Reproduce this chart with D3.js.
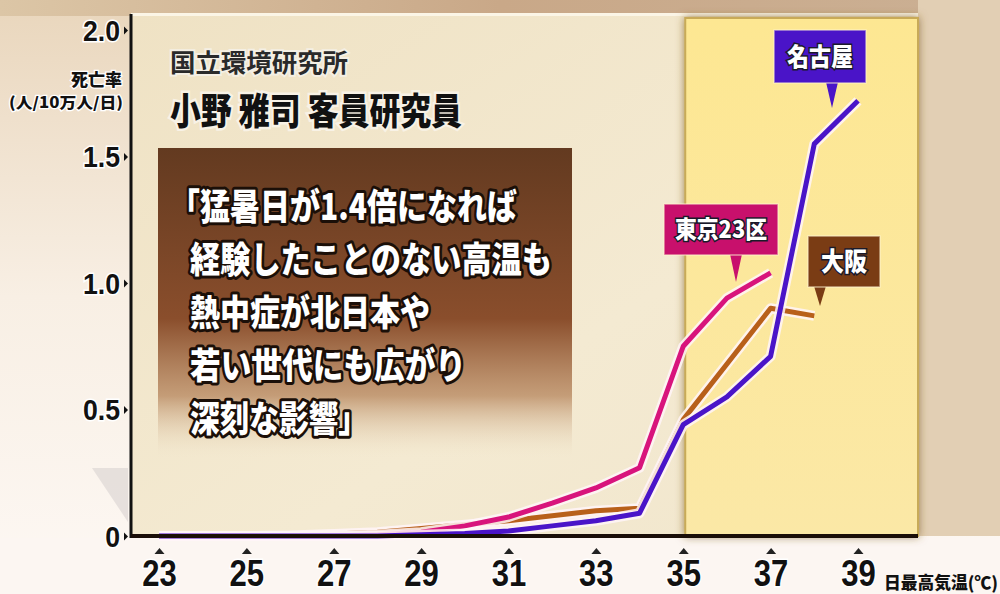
<!DOCTYPE html>
<html><head><meta charset="utf-8">
<script src="https://cdn.jsdelivr.net/npm/d3@7"></script>
<style>
html,body{margin:0;padding:0;background:#fbf3ea;}
svg{display:block;}
</style></head>
<body>
<svg id="chart" width="1000" height="594"></svg>
<script>
// ---- data ----
const temps = [23,24,25,26,27,28,29,30,31,32,33,34,35,36,37,38,39];
const tokyo  = [0,0,0,0,0,0.005,0.015,0.04,0.075,0.13,0.19,0.27,0.75,0.94,1.04];
const osaka  = [0,0,0,0.002,0.008,0.015,0.03,0.045,0.06,0.08,0.10,0.11,0.46,0.68,0.90,0.87];
const nagoya = [0,0,0,0,0,0,0.005,0.01,0.02,0.04,0.06,0.09,0.44,0.55,0.71,1.55,1.72];
const xTicks = [23,25,27,29,31,33,35,37,39];
const yTicks = [0,0.5,1.0,1.5,2.0];
const yTickLabels = ["0","0.5","1.0","1.5","2.0"];
const seriesNames = ["東京23区","大阪","名古屋"];
const quoteLines = ["「猛暑日が1.4倍になれば","経験したことのない高温も","熱中症が北日本や","若い世代にも広がり","深刻な影響」"];

const svg = d3.select("#chart");
const W = 1000, H = 594;
const x = d3.scaleLinear().domain([23,39]).range([159,858]);
const y = d3.scaleLinear().domain([0,2]).range([536,30]);
const axisX = 131, axisY = y(0);

const defs = svg.append("defs");
const g1 = defs.append("linearGradient").attr("id","bgLeft").attr("x1",0).attr("y1",0).attr("x2",0).attr("y2",1);
g1.append("stop").attr("offset","0").attr("stop-color","#e9d6bc");
g1.append("stop").attr("offset","0.5").attr("stop-color","#f8efe4");
g1.append("stop").attr("offset","1").attr("stop-color","#fdf8f4");
const g2 = defs.append("linearGradient").attr("id","panel").attr("x1",0).attr("y1",0).attr("x2",1).attr("y2",1);
g2.append("stop").attr("offset","0").attr("stop-color","#efe2c4");
g2.append("stop").attr("offset","0.6").attr("stop-color","#f4ead2");
g2.append("stop").attr("offset","1").attr("stop-color","#f1e6cc");
const g3 = defs.append("linearGradient").attr("id","quoteBox").attr("x1",0).attr("y1",0).attr("x2",0).attr("y2",1);
g3.append("stop").attr("offset","0").attr("stop-color","#633a20");
g3.append("stop").attr("offset","0.55").attr("stop-color","#8a4e2c");
g3.append("stop").attr("offset","0.8").attr("stop-color","#b98a62").attr("stop-opacity",0.8);
g3.append("stop").attr("offset","1").attr("stop-color","#efe2c8").attr("stop-opacity",0);
const g4 = defs.append("linearGradient").attr("id","topStrip").attr("x1",0).attr("y1",0).attr("x2",1).attr("y2",0);
g4.append("stop").attr("offset","0").attr("stop-color","#dcc6a6");
g4.append("stop").attr("offset","0.5").attr("stop-color","#c9a888");
g4.append("stop").attr("offset","1").attr("stop-color","#cbb094");
const g5 = defs.append("linearGradient").attr("id","yellow").attr("x1",0).attr("y1",0).attr("x2",0).attr("y2",1);
g5.append("stop").attr("offset","0").attr("stop-color","#fde792");
g5.append("stop").attr("offset","1").attr("stop-color","#fbe8a6");
const f = defs.append("filter").attr("id","shadow").attr("x","-10%").attr("y","-10%").attr("width","120%").attr("height","120%");
f.append("feDropShadow").attr("dx",0).attr("dy",0).attr("stdDeviation",4).attr("flood-color","#7a5a20").attr("flood-opacity",0.7);

// background
svg.append("rect").attr("width",W).attr("height",H).attr("fill","url(#bgLeft)");
svg.append("rect").attr("x",0).attr("y",0).attr("width",W).attr("height",16).attr("fill","url(#topStrip)");
svg.append("rect").attr("x",918).attr("y",0).attr("width",82).attr("height",axisY).attr("fill","#e2cfb4");
svg.append("rect").attr("x",axisX).attr("y",13).attr("width",918-axisX).attr("height",axisY-13).attr("fill","url(#panel)");
svg.append("rect").attr("x",axisX).attr("y",13).attr("width",918-axisX).attr("height",3).attr("fill","#fbf5e6");
svg.append("path").attr("d","M92,468 L128,468 L128,522 Z").attr("fill","#d8d2d0").attr("opacity",0.6);
svg.append("rect").attr("x",0).attr("y",axisY+2).attr("width",W).attr("height",H-axisY).attr("fill","#fcf6f2");

// yellow highlight panel
svg.append("rect").attr("x",x(35)+2).attr("y",18).attr("width",918-x(35)-2).attr("height",axisY-18)
  .attr("fill","url(#yellow)").attr("stroke","#c8aa58").attr("stroke-width",2).attr("filter","url(#shadow)");

// quote box
svg.append("rect").attr("x",158).attr("y",148).attr("width",414).attr("height",310).attr("fill","url(#quoteBox)");

// header texts
svg.append("text").attr("x",170).attr("y",72).text("国立環境研究所")
  .attr("font-family","Noto Sans CJK JP").attr("font-weight",700).attr("font-size",25)
  .attr("fill","#2a2a2a").attr("stroke","#f4efe4").attr("stroke-width",4).attr("paint-order","stroke")
  .attr("textLength",178).attr("lengthAdjust","spacingAndGlyphs");
svg.append("text").attr("x",170).attr("y",125).text("小野 雅司 客員研究員")
  .attr("font-family","Noto Sans CJK JP").attr("font-weight",900).attr("font-size",37)
  .attr("fill","#111").attr("stroke","#f8f2e6").attr("stroke-width",5).attr("paint-order","stroke")
  .attr("textLength",292).attr("lengthAdjust","spacingAndGlyphs");

// quote
const qx = [170,190,190,190,190];
const qw = [347,362,240,276,178];
svg.append("g").selectAll("text").data(quoteLines).join("text")
  .attr("x",(d,i)=>qx[i]).attr("y",(d,i)=>220+i*53)
  .text(d=>d)
  .attr("font-family","Noto Sans CJK JP").attr("font-weight",900).attr("font-size",36)
  .attr("fill","#ffffff").attr("stroke","#1b0f08").attr("stroke-width",6).attr("paint-order","stroke")
  .attr("stroke-linejoin","round")
  .attr("textLength",(d,i)=>qw[i]).attr("lengthAdjust","spacingAndGlyphs");

// lines
const line = d3.line().x(d=>x(d[0])).y(d=>y(d[1]));
const series = [
  {name:"大阪", vals:osaka, color:"#b8601a"},
  {name:"東京23区", vals:tokyo, color:"#d8147c"},
  {name:"名古屋", vals:nagoya, color:"#4a14c8"}
];
series.forEach(s=>{
  const pts = s.vals.map((v,i)=>[temps[i],v]);
  svg.append("path").attr("d",line(pts)).attr("fill","none").attr("stroke","#fff4f8").attr("stroke-opacity",0.85)
    .attr("stroke-width",10).attr("stroke-linejoin","round");
  svg.append("path").attr("d",line(pts)).attr("fill","none").attr("stroke",s.color)
    .attr("stroke-width",5).attr("stroke-linejoin","round");
});

// callouts
function callout(text, bx, by, bw, bh, tipX, tipY, color, fs, tl){
  const g = svg.append("g");
  g.append("path").attr("d",`M${tipX-6},${by+bh-1} L${tipX+6},${by+bh-1} L${tipX},${tipY} Z`).attr("fill",color);
  g.append("rect").attr("x",bx).attr("y",by).attr("width",bw).attr("height",bh).attr("fill",color)
    .attr("stroke","#fff3d0").attr("stroke-opacity",0.6).attr("stroke-width",1.5);
  g.append("text").attr("x",bx+bw/2).attr("y",by+bh/2+fs*0.36).attr("text-anchor","middle").text(text)
    .attr("font-family","Noto Sans CJK JP").attr("font-weight",900).attr("font-size",fs)
    .attr("fill","#fff").attr("stroke","#1a1a2a").attr("stroke-width",3).attr("paint-order","stroke")
    .attr("textLength",tl).attr("lengthAdjust","spacingAndGlyphs");
}
callout(seriesNames[2], 774, 30, 92, 53, 832, 108, "#4a14c8", 25, 66);
callout(seriesNames[0], 664, 204, 114, 51, 736, 282, "#c8106c", 24, 92);
callout(seriesNames[1], 808, 236, 72, 51, 820, 306, "#7a3c14", 26, 46);

// axes
const yAxis = d3.axisLeft(y).tickValues(yTicks).tickSize(0).tickPadding(12)
  .tickFormat((d,i)=>yTickLabels[i]);
const gy = svg.append("g").attr("transform",`translate(${axisX},0)`).call(yAxis);
gy.select(".domain").remove();
gy.selectAll("text").attr("font-family","Liberation Sans, Arial, sans-serif").attr("font-weight",700)
  .attr("font-size",29).attr("fill","#111").attr("dy","0.36em")
  .attr("stroke","#ffffff").attr("stroke-width",3).attr("paint-order","stroke")
  .attr("transform","scale(0.92,1)");
gy.selectAll(".tick").append("path").attr("d","M-7,-4 L-3,0 L-7,4 Z").attr("fill","#111");

const xAxis = d3.axisBottom(x).tickValues(xTicks).tickSize(0).tickPadding(23);
const gx = svg.append("g").attr("transform",`translate(0,${axisY})`).call(xAxis);
gx.select(".domain").remove();
gx.selectAll("text").attr("font-family","Liberation Sans, Arial, sans-serif").attr("font-weight",700)
  .attr("font-size",37).attr("fill","#111").attr("dy","0.72em")
  .attr("stroke","#ffffff").attr("stroke-width",3).attr("paint-order","stroke")
  .attr("transform","scale(0.84,1)");
gx.selectAll(".tick").append("path").attr("d","M-5,18 L5,18 L0,12 Z").attr("fill","#222");

// axis lines
svg.append("line").attr("x1",axisX).attr("x2",axisX).attr("y1",14).attr("y2",axisY+2).attr("stroke","#111").attr("stroke-width",3);
svg.append("line").attr("x1",axisX).attr("x2",918).attr("y1",axisY).attr("y2",axisY).attr("stroke","#1a0e08").attr("stroke-width",4);

// axis titles
svg.append("text").attr("x",122).attr("y",86).attr("text-anchor","end").text("死亡率")
  .attr("font-family","Noto Sans CJK JP").attr("font-weight",900).attr("font-size",17).attr("fill","#111")
  .attr("stroke","#fff").attr("stroke-width",2.5).attr("paint-order","stroke");
svg.append("text").attr("x",123).attr("y",108).attr("text-anchor","end").text("(人/10万人/日)")
  .attr("font-family","Noto Sans CJK JP").attr("font-weight",900).attr("font-size",15).attr("fill","#111")
  .attr("stroke","#fff").attr("stroke-width",2.5).attr("paint-order","stroke")
  .attr("textLength",114).attr("lengthAdjust","spacingAndGlyphs");
svg.append("text").attr("x",884).attr("y",589).text("日最高気温(℃)")
  .attr("font-family","Noto Sans CJK JP").attr("font-weight",900).attr("font-size",17).attr("fill","#111")
  .attr("textLength",114).attr("lengthAdjust","spacingAndGlyphs");
</script>
</body></html>
